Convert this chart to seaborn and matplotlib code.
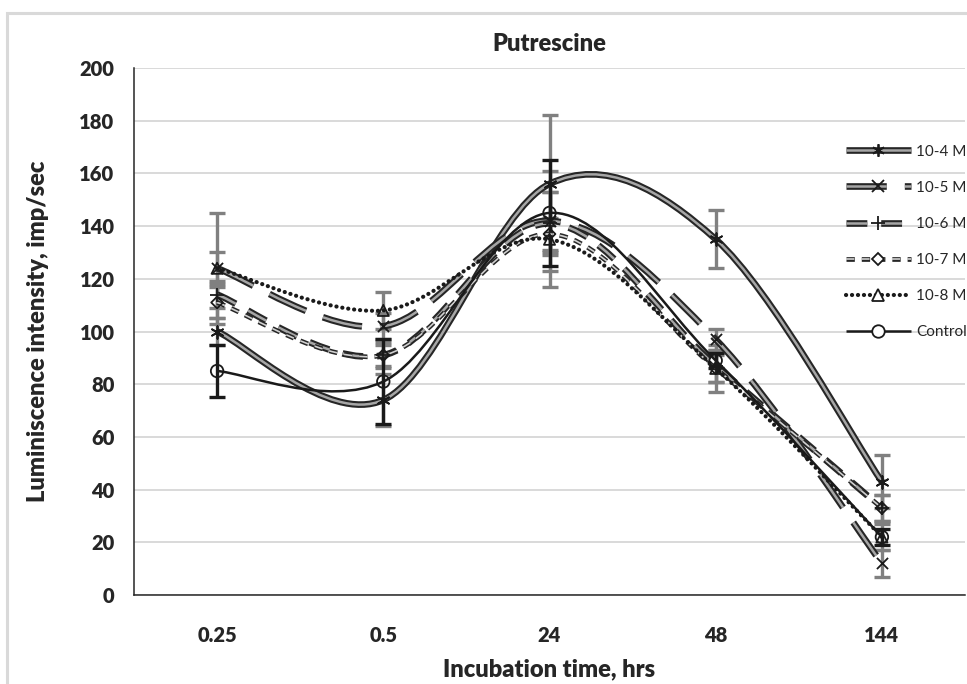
import numpy as np
import pandas as pd
import matplotlib
matplotlib.use("Agg")
import matplotlib.pyplot as plt
import matplotlib.patheffects as pe
from matplotlib.path import Path
from matplotlib.patches import PathPatch, Rectangle
from matplotlib.lines import Line2D
from matplotlib.legend_handler import HandlerTuple
import seaborn as sns

# data
times = ["0.25", "0.5", "24", "48", "144"]
series_names = ["10-4 M", "10-5 M", "10-6 M", "10-7 M", "10-8 M", "Control"]

vals_1e4 = [100, 74, 156, 135, 43]
vals_1e5 = [124, 102, 142, 97, 12]
vals_1e6 = [114, 91, 141, 87, 33]
vals_1e7 = [111, 91, 137, 86, 33]
vals_1e8 = [124, 108, 135, 86, 22]
vals_ctrl = [85, 81, 145, 89, 22]

err_1e4 = [5, 10, 26, 11, 10]
err_1e5 = [21, 5, 19, 4, 5]
err_1e6 = [5, 5, 12, 6, 5]
err_1e7 = [6, 4, 6, 5, 5]
err_1e8 = [6, 7, 18, 9, 5]
err_ctrl = [10, 16, 20, 3, 3]

values = [vals_1e4, vals_1e5, vals_1e6, vals_1e7, vals_1e8, vals_ctrl]
errors = [err_1e4, err_1e5, err_1e6, err_1e7, err_1e8, err_ctrl]

rows = []
for name, v, e in zip(series_names, values, errors):
    for i, t in enumerate(times):
        rows.append({"series": name, "time": t, "pos": i, "value": v[i], "err": e[i]})
df = pd.DataFrame(rows)

sns.set_style("white")
plt.rcParams["font.family"] = ["Lato", "DejaVu Sans"]
plt.rcParams["lines.scale_dashes"] = False

# line styles to mimic the Excel compound lines
styles = {
    "10-4 M": dict(ls="-", outer=4.8, inner=1.8, inner_col="#a6a6a6", marker=(6, 2, 0), ms=9),
    "10-5 M": dict(ls=(0, (29, 13)), outer=4.8, inner=1.8, inner_col="#a6a6a6", marker="x", ms=8),
    "10-6 M": dict(ls=(0, (15, 10)), outer=4.8, inner=1.8, inner_col="#a6a6a6", marker="+", ms=10),
    "10-7 M": dict(ls=(0, (6, 5)), outer=3.4, inner=1.2, inner_col="#d0d0d0", marker="D", ms=6),
    "10-8 M": dict(ls=(0, (0.1, 4.2)), outer=None, inner=3.0, inner_col="#1a1a1a", marker="^", ms=8),
    "Control": dict(ls="-", outer=None, inner=1.8, inner_col="#1a1a1a", marker="o", ms=9),
}


def smooth_path(y):
    # Excel-like smoothed line: cubic bezier segments (Catmull-Rom control points)
    pts = np.column_stack([np.arange(len(y)), np.asarray(y, float)])
    verts = [pts[0]]
    codes = [Path.MOVETO]
    n = len(pts)
    for i in range(n - 1):
        p0 = pts[max(i - 1, 0)]
        p1 = pts[i]
        p2 = pts[i + 1]
        p3 = pts[min(i + 2, n - 1)]
        c1 = p1 + (p2 - p0) / 6.0
        c2 = p2 - (p3 - p1) / 6.0
        verts += [c1, c2, p2]
        codes += [Path.CURVE4] * 3
    return Path(verts, codes)


fig = plt.figure(figsize=(9.67, 6.84), dpi=100)
ax = fig.add_axes([134 / 967, 89 / 684, 831 / 967, 527 / 684])

# chart frame (light gray border like the Excel chart area)
fig.patches.append(Rectangle((7 / 967, -0.1), 1.2, (684 - 13) / 684 + 0.1, transform=fig.transFigure,
                             fill=False, edgecolor="#d9d9d9", linewidth=2.2, zorder=0))

# error bars
for name in series_names:
    sub = df[df["series"] == name]
    col = "#1a1a1a" if name == "Control" else "#808080"
    ax.errorbar(sub["pos"], sub["value"], yerr=sub["err"], fmt="none", ecolor=col,
                elinewidth=2.4, capsize=5.5, capthick=2.4, zorder=3)

# smoothed lines
handles = []
for name in series_names:
    sub = df[df["series"] == name]
    st = styles[name]
    effects = []
    if st["outer"]:
        effects = [pe.Stroke(linewidth=st["outer"], foreground="#262626"), pe.Normal()]
    cap = "round" if name == "10-8 M" else "butt"
    patch = PathPatch(smooth_path(sub["value"].values), fill=False, edgecolor=st["inner_col"],
                      linewidth=st["inner"], linestyle=st["ls"], capstyle=cap, zorder=4,
                      path_effects=effects)
    ax.add_patch(patch)

    filled = st["marker"] in ("D", "^", "o")
    h_line = Line2D([0], [0], color=st["inner_col"], lw=st["inner"], ls=st["ls"],
                    dash_capstyle=cap, solid_capstyle="butt", path_effects=effects)
    h_mark = Line2D([0], [0], ls="none", marker=st["marker"], markersize=st["ms"],
                    markerfacecolor="white" if filled else "#1a1a1a",
                    markeredgecolor="#1a1a1a", markeredgewidth=1.3)
    handles.append((h_line, h_mark))

# markers
for name in series_names:
    sub = df[df["series"] == name]
    st = styles[name]
    filled = st["marker"] in ("D", "^", "o")
    sns.scatterplot(data=sub, x="pos", y="value", marker=st["marker"], s=st["ms"] ** 2,
                    facecolor="none" if filled else "#1a1a1a", edgecolor="#1a1a1a",
                    linewidth=1.3, ax=ax, zorder=5, legend=False)

ax.set_xlim(-0.5, 4.5)
ax.set_ylim(0, 200)
ax.set_yticks(np.arange(0, 201, 20))
ax.set_xticks(range(len(times)))
ax.set_xticklabels(times)
ax.set_xticks(np.arange(-0.5, 4.6, 1), minor=True)
ax.tick_params(axis="x", which="major", length=0, pad=22, labelsize=14.5)
ax.tick_params(axis="x", which="minor", direction="in", length=6, width=1.1, color="#262626")
ax.tick_params(axis="y", direction="out", length=6, width=1.1, color="#262626", labelsize=14.5, pad=8)
for lab in ax.get_xticklabels() + ax.get_yticklabels():
    lab.set_fontweight("heavy")

ax.grid(axis="y", color="#d9d9d9", linewidth=1.4)
ax.set_axisbelow(True)
for side in ["top", "right"]:
    ax.spines[side].set_visible(False)
for side in ["left", "bottom"]:
    ax.spines[side].set_color("#262626")
    ax.spines[side].set_linewidth(1.1)

ax.set_title("Putrescine", fontsize=17, fontweight="heavy", pad=12)
ax.set_xlabel("Incubation time, hrs", fontsize=17, fontweight="heavy", labelpad=10)
ax.set_ylabel("Luminiscence intensity, imp/sec", fontsize=17, fontweight="heavy", labelpad=22)

fig.legend(handles=handles, labels=series_names, loc="upper left",
           handler_map={tuple: HandlerTuple(ndivide=1)},
           bbox_to_anchor=(838 / 967, (684 - 137) / 684), frameon=False,
           fontsize=11, handlelength=4.3, labelspacing=1.45, handletextpad=0.3, borderpad=0)

fig.savefig("out.png", dpi=100)
